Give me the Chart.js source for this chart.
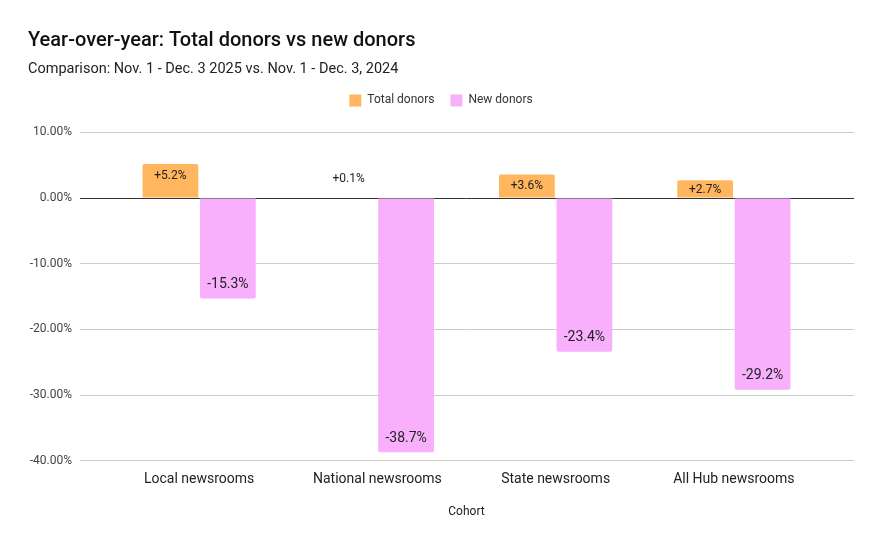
<!DOCTYPE html>
<html>
<head>
<meta charset="utf-8">
<script src="https://cdn.jsdelivr.net/npm/chart.js@4"></script>
<style>
  html, body { margin: 0; padding: 0; background: #fff; }
  #wrap { width: 880px; height: 543px; }
</style>
</head>
<body>
<div id="wrap"><canvas id="myChart" width="880" height="543"></canvas></div>
<script>
const cohorts = ['Local newsrooms', 'National newsrooms', 'State newsrooms', 'All Hub newsrooms'];
const totalDonors = [5.2, 0.1, 3.6, 2.7];
const newDonors = [-15.3, -38.7, -23.4, -29.2];
const MIN_VALUE = -40;
const MAX_VALUE = 10;
const STEP = 10;

const FONT = 'Roboto, "Liberation Sans", Arial, sans-serif';

const gridColor = (ctx) => (ctx.tick && ctx.tick.value === 0) ? '#333333' : '#cccccc';

// étiquettes dans le bout des barres
const barLabels = {
  id: 'barLabels',
  afterDatasetsDraw(chart) {
    const ctx = chart.ctx;
    ctx.save();
    ctx.textAlign = 'center';
    ctx.textBaseline = 'middle';
    ctx.fillStyle = '#222222';
    chart.data.datasets.forEach((ds, di) => {
      const meta = chart.getDatasetMeta(di);
      meta.data.forEach((bar, i) => {
        const v = ds.data[i];
        const txt = (v > 0 ? '+' : '') + v.toFixed(1) + '%';
        if (di === 0) {
          ctx.font = '12px ' + FONT;
          const h = bar.base - bar.y;
          const y = h >= 14 ? Math.min(bar.y + 12, bar.base - 8) : bar.y - 18;
          ctx.fillText(txt, bar.x, y);
        } else {
          ctx.font = '14px ' + FONT;
          ctx.fillText(txt, bar.x, bar.y - 14);
        }
      });
    });
    ctx.restore();
  }
};

// un peu plus d'espace sous la légende
const legendSpace = {
  id: 'legendSpace',
  beforeInit(chart) {
    const origFit = chart.legend.fit;
    chart.legend.fit = function () {
      origFit.call(this);
      this.height += 16;
    };
  }
};

let myChart;

const setup = () => {
  const ctxt = document.getElementById('myChart').getContext('2d');
  myChart = new Chart(ctxt, {
    type: 'bar',
    data: {
      labels: cohorts,
      datasets: [
        {
          label: 'Total donors',
          data: totalDonors,
          backgroundColor: '#ffb65f',
          borderRadius: 2,
          categoryPercentage: 0.645,
          barPercentage: 0.97
        },
        {
          label: 'New donors',
          data: newDonors,
          backgroundColor: '#f8affc',
          borderRadius: 2,
          categoryPercentage: 0.645,
          barPercentage: 0.97
        }
      ]
    },
    options: {
      responsive: false,
      animation: false,
      layout: { padding: { left: 28, right: 26, top: 0, bottom: 24 } },
      plugins: {
        title: {
          display: true,
          text: 'Year-over-year: Total donors vs new donors',
          align: 'start',
          color: '#111111',
          font: { family: FONT, size: 20, weight: '500' },
          padding: { top: 29, bottom: 8 }
        },
        subtitle: {
          display: true,
          text: 'Comparison: Nov. 1 - Dec. 3 2025 vs. Nov. 1 - Dec. 3, 2024',
          align: 'start',
          color: '#222222',
          font: { family: FONT, size: 14.5 },
          padding: { top: 0, bottom: 0 }
        },
        legend: {
          position: 'top',
          labels: {
            boxWidth: 12,
            boxHeight: 12,
            padding: 16,
            color: '#333333',
            font: { family: FONT, size: 12 }
          }
        },
        tooltip: { enabled: false }
      },
      scales: {
        x: {
          grid: { display: false, drawTicks: false },
          border: { display: false },
          ticks: { color: '#222222', padding: 10, font: { family: FONT, size: 14 } },
          title: {
            display: true,
            text: 'Cohort',
            color: '#222222',
            font: { family: FONT, size: 12 },
            padding: { top: 7, bottom: 0 }
          }
        },
        y: {
          min: MIN_VALUE,
          max: MAX_VALUE,
          afterFit: (scale) => { scale.width = 82; },
          grid: { color: gridColor, tickLength: 30 },
          border: { display: false },
          ticks: {
            stepSize: STEP,
            padding: 8,
            color: '#444444',
            font: { family: FONT, size: 12 },
            callback: (v) => v.toFixed(2) + '%'
          }
        },
        y2: {
          position: 'right',
          min: MIN_VALUE,
          max: MAX_VALUE,
          grid: { color: gridColor, tickLength: 31, drawOnChartArea: false },
          border: { display: false },
          ticks: { stepSize: STEP, display: false }
        }
      }
    },
    plugins: [barLabels, legendSpace]
  });
};

window.addEventListener('DOMContentLoaded', setup);
</script>
</body>
</html>
